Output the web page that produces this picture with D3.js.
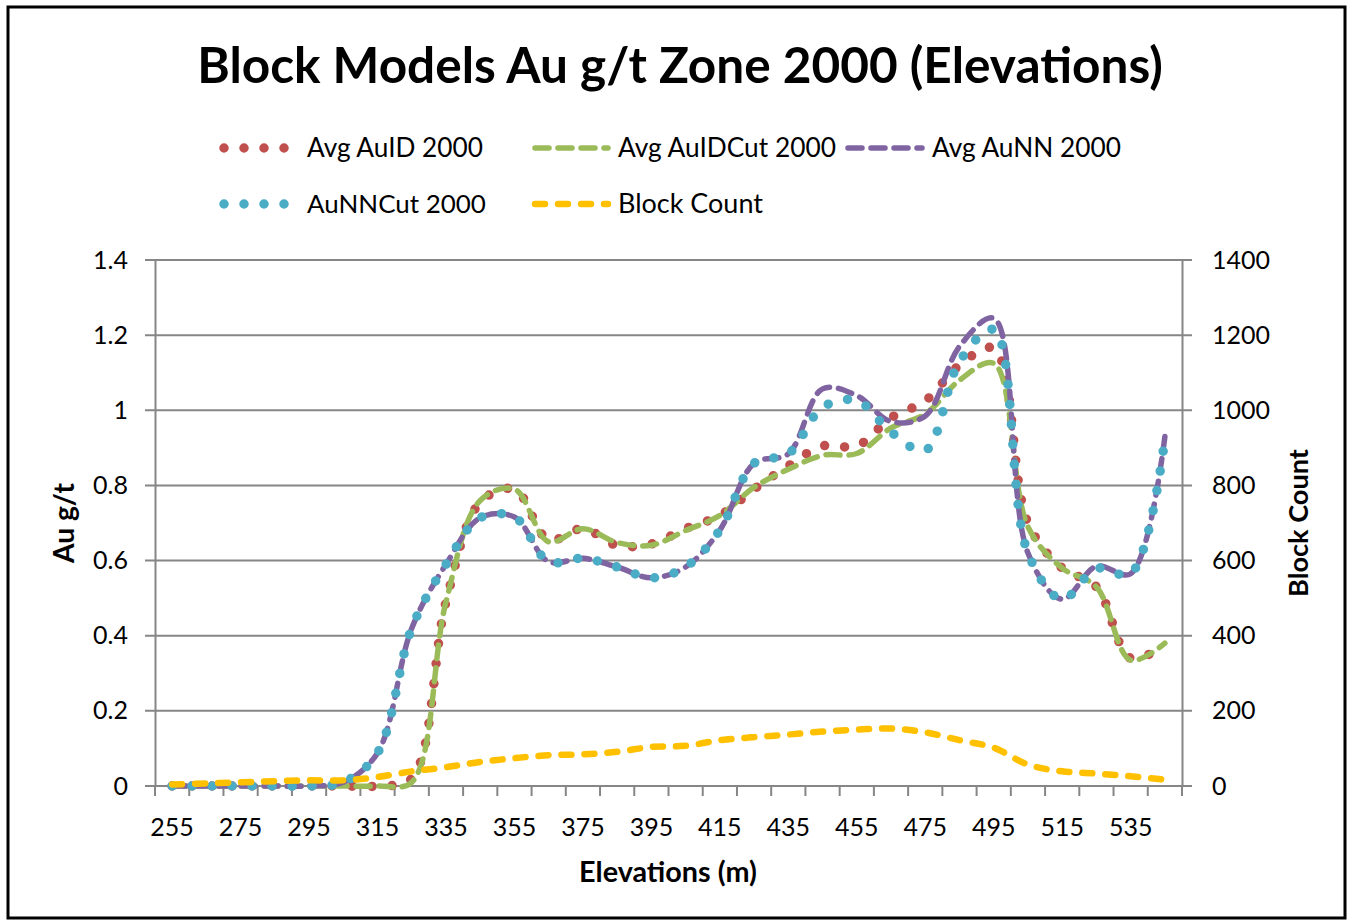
<!DOCTYPE html>
<html>
<head>
<meta charset="utf-8">
<script src="https://cdn.jsdelivr.net/npm/d3@7/dist/d3.min.js"></script>
<style>
  html, body { margin: 0; padding: 0; background: #fff; }
  svg { display: block; font-family: Lato, "Open Sans", sans-serif; }
</style>
</head>
<body>
<svg id="chart" width="1353" height="924"></svg>
<script>
// Elevation bins (m)
const elevations = [255, 265, 275, 285, 295, 305, 315, 325, 335, 345,
                    355, 365, 375, 385, 395, 405, 415, 425, 435, 445,
                    455, 465, 475, 485, 495, 505, 515, 525, 535, 545];

// Grades, g/t Au
const avgAuID = [0, 0, 0, 0, 0, 0, 0, 0.02, 0.49, 0.755,
                 0.79, 0.655, 0.685, 0.64, 0.644, 0.685, 0.72, 0.79, 0.852, 0.905,
                 0.905, 0.98, 1.025, 1.12, 1.165, 0.70, 0.58, 0.53, 0.34, 0.375];
const avgAuIDCut = [0, 0, 0, 0, 0, 0, 0, 0.01, 0.49, 0.76,
                    0.79, 0.65, 0.685, 0.648, 0.641, 0.68, 0.72, 0.795, 0.843, 0.88,
                    0.885, 0.953, 0.99, 1.08, 1.125, 0.69, 0.58, 0.53, 0.335, 0.38];
const avgAuNN = [0, 0, 0, 0, 0, 0.01, 0.088, 0.42, 0.59, 0.714,
                 0.716, 0.597, 0.606, 0.583, 0.554, 0.583, 0.681, 0.859, 0.884, 1.057,
                 1.039, 0.97, 0.985, 1.17, 1.245, 0.62, 0.497, 0.585, 0.565, 0.93];
const auNNCut = [0, 0, 0, 0, 0, 0.01, 0.088, 0.42, 0.59, 0.714,
                 0.716, 0.597, 0.606, 0.583, 0.554, 0.583, 0.681, 0.859, 0.884, 1.008,
                 1.026, 0.942, 0.893, 1.13, 1.215, 0.62, 0.497, 0.579, 0.565, 0.925];

// Number of blocks per elevation bin
const blockCount = [4, 7, 10, 13, 15, 15, 24, 39, 50, 64,
                    74, 82, 84, 91, 104, 107, 122, 130, 137, 145,
                    150, 153, 143, 122, 102, 57, 39, 33, 26, 17];

const gradeTicks = [0, 0.2, 0.4, 0.6, 0.8, 1, 1.2, 1.4];
const countTicks = [0, 200, 400, 600, 800, 1000, 1200, 1400];

const seriesNames = ["Avg AuID 2000", "Avg AuIDCut 2000", "Avg AuNN 2000", "AuNNCut 2000", "Block Count"];

const svg = d3.select("#chart");
const plot = { left: 155, right: 1182, top: 260, bottom: 786 };

const gridColor = "#868686";
const fontFam = 'Lato, "Open Sans", sans-serif';

// chart frame
svg.append("rect")
  .attr("x", 8).attr("y", 7).attr("width", 1337).attr("height", 911)
  .attr("fill", "#fff").attr("stroke", "#000").attr("stroke-width", 3);

const x = d3.scaleBand().domain(elevations).range([plot.left, plot.right]).padding(0);
const yL = d3.scaleLinear().domain([0, 1.4]).range([plot.bottom, plot.top]);
const yR = d3.scaleLinear().domain([0, 1400]).range([plot.bottom, plot.top]);
const cx = d => x(d) + x.bandwidth() / 2;

// horizontal gridlines
svg.append("g").selectAll("line").data(gradeTicks).join("line")
  .attr("x1", plot.left - 10).attr("x2", plot.right + 10)
  .attr("y1", d => yL(d)).attr("y2", d => yL(d))
  .attr("stroke", gridColor).attr("stroke-width", 2);

// left axis
const gLeft = svg.append("g").attr("transform", `translate(${plot.left},0)`)
  .call(d3.axisLeft(yL).tickValues(gradeTicks).tickSize(0).tickPadding(27)
        .tickFormat(d => d3.format("~g")(d)));
gLeft.select(".domain").attr("stroke", gridColor).attr("stroke-width", 2);
gLeft.selectAll("text").attr("font-size", 25).attr("font-family", fontFam).attr("fill", "#000");

// right axis
const gRight = svg.append("g").attr("transform", `translate(${plot.right},0)`)
  .call(d3.axisRight(yR).tickValues(countTicks).tickSize(0).tickPadding(30)
        .tickFormat(d3.format("d")));
gRight.select(".domain").attr("stroke", gridColor).attr("stroke-width", 2);
gRight.selectAll("text").attr("font-size", 25).attr("font-family", fontFam).attr("fill", "#000");

// bottom axis: tick marks at every bin edge, labels on every other bin
const edges = elevations.map(d => x(d)).concat([plot.right]);
svg.append("g").selectAll("line").data(edges).join("line")
  .attr("x1", d => d).attr("x2", d => d)
  .attr("y1", plot.bottom).attr("y2", plot.bottom + 10)
  .attr("stroke", gridColor).attr("stroke-width", 2);
svg.append("line")
  .attr("x1", plot.left - 10).attr("x2", plot.right + 10)
  .attr("y1", plot.bottom).attr("y2", plot.bottom)
  .attr("stroke", gridColor).attr("stroke-width", 2);
svg.append("g").selectAll("text").data(elevations.filter((d, i) => i % 2 === 0)).join("text")
  .attr("x", d => cx(d)).attr("y", plot.bottom + 50)
  .attr("text-anchor", "middle").attr("font-size", 25).attr("font-family", fontFam)
  .text(d => d);

// series
const lineL = d3.line().curve(d3.curveCatmullRom.alpha(0.5));
const styles = [
  { name: seriesNames[0], data: avgAuID,    color: "#C0504D", width: 9.5, dash: "0 20", scale: yL },
  { name: seriesNames[1], data: avgAuIDCut, color: "#9BBB59", width: 5.5, dash: "14 9", scale: yL },
  { name: seriesNames[2], data: avgAuNN,    color: "#8064A2", width: 5.5, dash: "14 9", scale: yL },
  { name: seriesNames[3], data: auNNCut,    color: "#4BACC6", width: 9.5, dash: "0 20", scale: yL },
  { name: seriesNames[4], data: blockCount, color: "#FFC000", width: 6.5, dash: "10 13", scale: yR }
];

const gSeries = svg.append("g");
styles.forEach(s => {
  const pts = elevations.map((e, i) => [cx(e), s.scale(s.data[i])]);
  gSeries.append("path")
    .attr("d", lineL(pts))
    .attr("fill", "none")
    .attr("stroke", s.color)
    .attr("stroke-width", s.width)
    .attr("stroke-dasharray", s.dash)
    .attr("stroke-linecap", "round");
});

// fit a text element to a given width by scaling its font size
function fitWidth(sel, base, target) {
  sel.attr("font-size", base);
  const w = sel.node().getComputedTextLength();
  sel.attr("font-size", base * target / w);
}

// title
const title = svg.append("text")
  .attr("x", 680).attr("y", 83).attr("text-anchor", "middle")
  .attr("font-weight", "bold").attr("font-family", fontFam)
  .text("Block Models Au g/t Zone 2000 (Elevations)");
fitWidth(title, 46, 966);

// axis titles
const xTitle = svg.append("text")
  .attr("x", 668).attr("y", 882).attr("text-anchor", "middle")
  .attr("font-weight", "bold").attr("font-family", fontFam)
  .text("Elevations (m)");
fitWidth(xTitle, 26, 178);

const yTitle = svg.append("text")
  .attr("transform", "translate(74,523) rotate(-90)").attr("text-anchor", "middle")
  .attr("font-weight", "bold").attr("font-family", fontFam)
  .text("Au g/t");
fitWidth(yTitle, 26, 80);

const y2Title = svg.append("text")
  .attr("transform", "translate(1308,523) rotate(-90)").attr("text-anchor", "middle")
  .attr("font-weight", "bold").attr("font-family", fontFam)
  .text("Block Count");
fitWidth(y2Title, 26, 148);

// legend
const legendItems = [
  { s: styles[0], x0: 224, x1: 285, tx: 307, y: 148, w: 176 },
  { s: styles[1], x0: 535, x1: 608, tx: 618, y: 148, w: 218 },
  { s: styles[2], x0: 848, x1: 922, tx: 932, y: 148, w: 189 },
  { s: styles[3], x0: 224, x1: 285, tx: 307, y: 204, w: 179 },
  { s: styles[4], x0: 535, x1: 608, tx: 618, y: 204, w: 145 }
];
const gLeg = svg.append("g");
legendItems.forEach(it => {
  gLeg.append("line")
    .attr("x1", it.x0).attr("x2", it.x1).attr("y1", it.y).attr("y2", it.y)
    .attr("stroke", it.s.color).attr("stroke-width", it.s.width)
    .attr("stroke-dasharray", it.s.dash).attr("stroke-linecap", "round");
  const t = gLeg.append("text")
    .attr("x", it.tx).attr("y", it.y + 9).attr("font-family", fontFam)
    .text(it.s.name);
  fitWidth(t, 25, it.w);
});
</script>
</body>
</html>
